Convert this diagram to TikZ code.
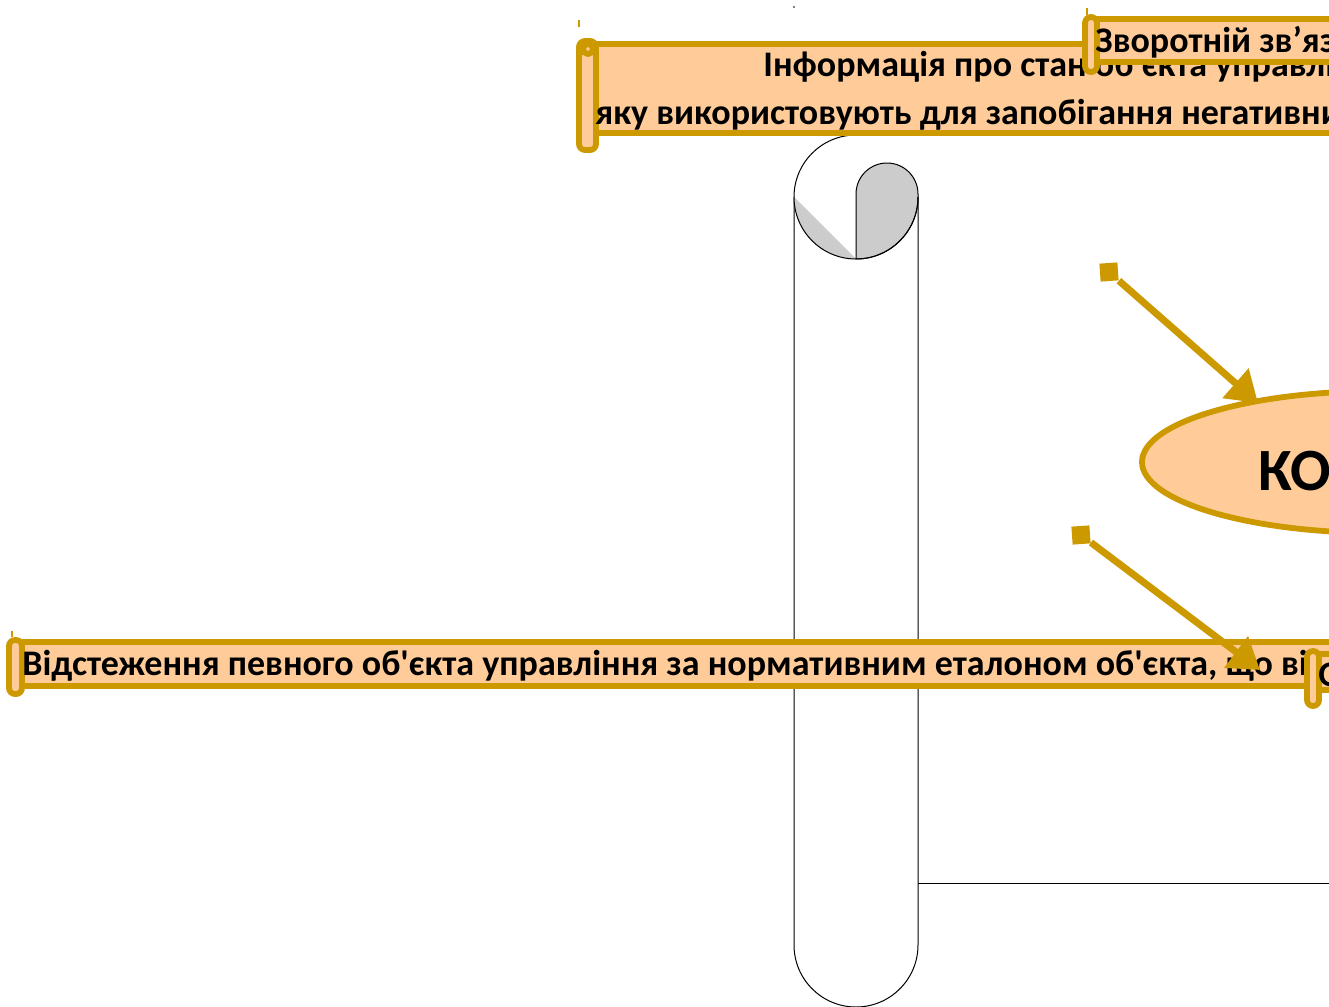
\documentclass[tikz,border=0pt]{standalone}
\usepackage{fontspec}
\setmainfont{Carlito}[Ligatures=TeXOff]
\usetikzlibrary{shapes.geometric,arrows.meta}
\definecolor{gold}{RGB}{204,153,0}
\definecolor{peach}{RGB}{255,204,153}
\definecolor{greyfill}{RGB}{204,204,204}
\begin{document}
\begin{tikzpicture}[x=0.5pt,y=-0.5pt,
  gline/.style={draw=gold,line width=2.9pt},
  banner/.style={gline,fill=peach},
  roll/.style={gline,fill=peach,rounded corners=3pt},
  thinline/.style={draw=black,line width=0.5pt},
  tick/.style={draw=gold,line width=0.6pt},
  btext/.style={anchor=base west,inner sep=0pt,font=\fontsize{18}{20}\selectfont\bfseries},
  bigtext/.style={anchor=base west,inner sep=0pt,font=\fontsize{30}{32}\selectfont\bfseries},
  sqmark/.style={fill=gold,minimum size=9pt,inner sep=0pt,rotate=4},
  garrow/.style={draw=gold,line width=3.5pt,-{Triangle[length=15pt,width=19pt]}},
]
\useasboundingbox (0,0) rectangle (1329,1007);
\clip (0,0) rectangle (1329,1007);
\fill[white] (0,0) rectangle (1329,1007);

% small artefacts
\fill[black] (794,7) circle[radius=0.8];
\draw[tick] (579,20) -- (579,27);
\draw[tick] (1087,8) -- (1087,15);
\draw[tick] (12,631) -- (12,637);

% tall vertical scroll (thin outline)
\fill[white] (794,197) -- (794,945)
   arc[start angle=180,end angle=0,radius=62] -- (918,197)
   arc[start angle=0,end angle=-180,radius=62] -- cycle;
\draw[thinline] (856,135) arc[start angle=-90,end angle=-180,radius=62]
   -- (794,945) arc[start angle=180,end angle=0,radius=62] -- (918,197);
\fill[greyfill] (794,197) -- (856,259) arc[start angle=90,end angle=180,radius=62] -- cycle;
\draw[thinline,fill=greyfill] (856,194) arc[start angle=180,end angle=360,radius=31]
   -- (918,197) arc[start angle=0,end angle=90,radius=62] -- cycle;
\draw[thinline] (918,197) arc[start angle=0,end angle=180,radius=62];
\draw[thinline] (918,883) -- (1329,883);

% top banner
\draw[banner] (588,44) rectangle (1345,133);
\draw[roll] (579,41) rectangle (596,150);
\draw[gline] (588,49) circle[radius=5];
\node[btext] (info1) at (763,76) {Інформація про стан об'єкта управлі};
\node[btext] (info2) at (595,124) {яку використовують для запобігання негативни};

% feedback scroll
\draw[banner] (1092,19) rectangle (1345,62);
\draw[roll] (1085,17) rectangle (1097,72);
\node[btext] (fb) at (1095,52) {Зворотній зв’яз};

% lower banner
\draw[banner] (16,642) rectangle (1345,686);
\draw[roll] (9,640) rectangle (22,694);
\node[btext] (track) at (22,675) {Відстеження певного об'єкта управління за нормативним еталоном об'єкта, що ві};

% lower-right scroll
\draw[banner] (1316,654) rectangle (1345,690);
\draw[roll] (1307,651) rectangle (1319,706);
\node[btext] (lr) at (1318,686) {О};

% ellipse
\node[ellipse,banner,minimum width=238pt,minimum height=71pt,inner sep=0pt] (ell) at (1380,462) {};
\node[bigtext] (ko) at (1258,490) {КО};

% arrows
\node[sqmark] (s1) at (1109,272) {};
\node[sqmark] (s2) at (1081,535) {};
\coordinate (t1) at (1258,403);
\coordinate (t2) at (1260,670);
\draw[garrow] (s1) -- (t1);
\draw[garrow] (s2) -- (t2);
\end{tikzpicture}
\end{document}
